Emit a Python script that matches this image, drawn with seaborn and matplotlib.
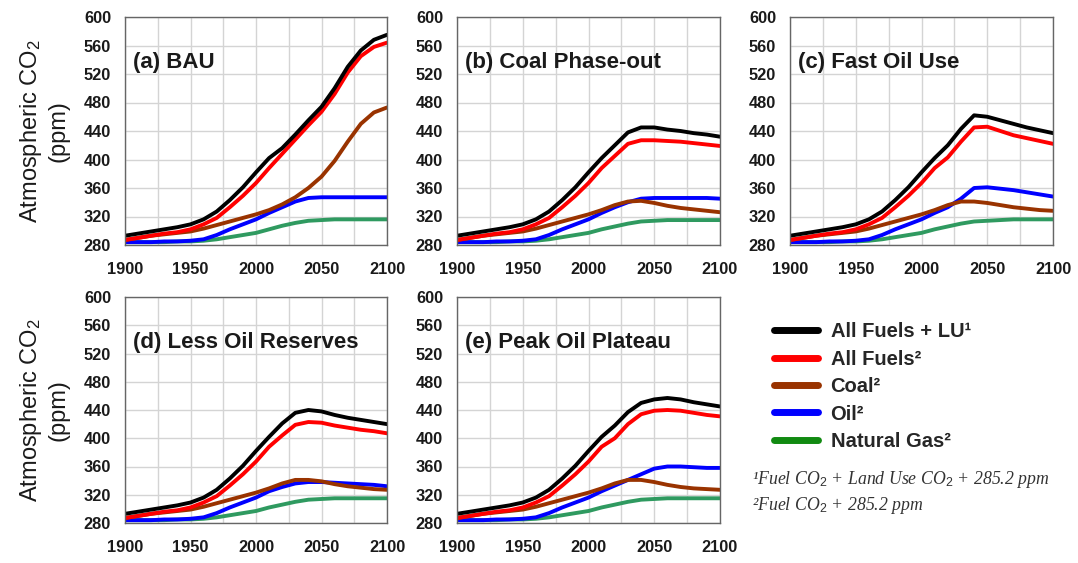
import matplotlib
matplotlib.use("Agg")
import matplotlib.pyplot as plt
from matplotlib.lines import Line2D
import numpy as np
import pandas as pd
import seaborn as sns

# ---------------------------------------------------------------- data
# Historical period shared by every scenario (ppm)
HIST_YEARS = list(range(1900, 2011, 10))
hist_all_lu = [293, 296, 299, 302, 305, 309, 316, 327, 343, 361, 382, 402]
hist_all = [287, 290, 293, 296, 298, 302, 309, 318, 333, 349, 367, 388]
hist_coal = [287, 290, 293, 295, 297, 299, 303, 308, 313, 318, 323, 329]
hist_oil = [284, 284, 284, 285, 285, 286, 288, 294, 302, 309, 316, 325]
hist_gas = [284, 284, 284, 284, 285, 285, 286, 288, 291, 294, 297, 302]

# Projections, 2020-2100 every 10 years (ppm)
FUT_YEARS = list(range(2020, 2101, 10))

bau_all_lu = [416, 435, 455, 474, 500, 530, 553, 568, 575]
bau_all = [408, 428, 448, 467, 492, 522, 545, 558, 564]
bau_coal = [337, 347, 360, 376, 398, 425, 450, 466, 473]
bau_oil = [333, 341, 346, 347, 347, 347, 347, 347, 347]
bau_gas = [307, 311, 314, 315, 316, 316, 316, 316, 316]

coal_all_lu = [420, 438, 445, 445, 442, 440, 437, 435, 432]
coal_all = [405, 422, 427, 427, 426, 425, 423, 421, 419]
coal_coal = [336, 341, 342, 339, 335, 332, 330, 328, 326]
coal_oil = [333, 340, 345, 346, 346, 346, 346, 346, 345]
coal_gas = [306, 310, 313, 314, 315, 315, 315, 315, 315]

fast_all_lu = [420, 443, 462, 460, 455, 450, 445, 441, 437]
fast_all = [403, 425, 445, 446, 440, 434, 430, 426, 422]
fast_coal = [336, 341, 341, 339, 336, 333, 331, 329, 328]
fast_oil = [333, 345, 360, 361, 359, 357, 354, 351, 348]
fast_gas = [306, 310, 313, 314, 315, 316, 316, 316, 316]

less_all_lu = [421, 436, 440, 438, 433, 429, 426, 423, 420]
less_all = [404, 419, 423, 422, 418, 415, 412, 410, 407]
less_coal = [336, 341, 341, 339, 335, 332, 330, 328, 327]
less_oil = [331, 336, 338, 338, 337, 336, 335, 334, 332]
less_gas = [306, 310, 313, 314, 315, 315, 315, 315, 315]

peak_all_lu = [418, 437, 450, 455, 457, 455, 451, 448, 445]
peak_all = [400, 420, 434, 439, 440, 439, 436, 433, 431]
peak_coal = [336, 341, 341, 338, 334, 331, 329, 328, 327]
peak_oil = [333, 341, 349, 357, 360, 360, 359, 358, 358]
peak_gas = [306, 310, 313, 314, 315, 315, 315, 315, 315]

SERIES = ["Natural Gas²", "Oil²", "Coal²", "All Fuels²", "All Fuels + LU¹"]
COLORS = ["#2f9a60", "#0000ff", "#993300", "#ff0000", "#000000"]
LEGEND_ORDER = ["All Fuels + LU¹", "All Fuels²", "Coal²", "Oil²", "Natural Gas²"]
LEGEND_COLORS = ["#000000", "#ff0000", "#993300", "#0000ff", "#118a11"]

PANELS = [
    ("(a) BAU", [bau_gas, bau_oil, bau_coal, bau_all, bau_all_lu]),
    ("(b) Coal Phase-out", [coal_gas, coal_oil, coal_coal, coal_all, coal_all_lu]),
    ("(c) Fast Oil Use", [fast_gas, fast_oil, fast_coal, fast_all, fast_all_lu]),
    ("(d) Less Oil Reserves", [less_gas, less_oil, less_coal, less_all, less_all_lu]),
    ("(e) Peak Oil Plateau", [peak_gas, peak_oil, peak_coal, peak_all, peak_all_lu]),
]
HISTORY = [hist_gas, hist_oil, hist_coal, hist_all, hist_all_lu]


def panel_frame(future):
    rows = []
    for name, hist, fut in zip(SERIES, HISTORY, future):
        for yr, v in zip(HIST_YEARS + FUT_YEARS, hist + fut):
            rows.append({"year": yr, "ppm": v, "series": name})
    return pd.DataFrame(rows)


# ---------------------------------------------------------------- style
sns.set_theme(style="whitegrid")
plt.rcParams["font.family"] = ["Liberation Sans", "DejaVu Sans"]
plt.rcParams["mathtext.fontset"] = "custom"
plt.rcParams["mathtext.rm"] = "Liberation Sans"
plt.rcParams["mathtext.it"] = "Liberation Serif:italic"
plt.rcParams["mathtext.bf"] = "Liberation Sans:bold"

W, H = 1078, 563
fig = plt.figure(figsize=(W / 100, H / 100), dpi=100)

# axes boxes in pixels: left, top, right, bottom
BOXES = [
    (125, 17, 387, 245),
    (457, 17, 720, 245),
    (790, 17, 1053, 245),
    (125, 297, 387, 523),
    (457, 297, 720, 523),
]

palette = dict(zip(SERIES, COLORS))
for i, ((title, future), (l, t, r, b)) in enumerate(zip(PANELS, BOXES)):
    ax = fig.add_axes([l / W, (H - b) / H, (r - l) / W, (b - t) / H])
    df = panel_frame(future)
    sns.lineplot(data=df, x="year", y="ppm", hue="series", hue_order=SERIES,
                 palette=palette, linewidth=2.8, legend=False, ax=ax)
    ax.set_xlim(1900, 2100)
    ax.set_ylim(280, 600)
    ax.set_xticks(np.arange(1900, 2101, 50))
    ax.set_xticks(np.arange(1925, 2100, 50), minor=True)
    ax.set_yticks(np.arange(280, 601, 40))
    ax.grid(True, which="both", color="#d4d4d4", linewidth=1.0)
    ax.set_axisbelow(True)
    ax.tick_params(axis="both", which="both", length=0)
    ax.tick_params(axis="x", pad=12)
    ax.tick_params(axis="y", pad=10)
    for lab in ax.get_xticklabels() + ax.get_yticklabels():
        lab.set_fontsize(11.8)
        lab.set_fontweight("bold")
        lab.set_color("#1a1a1a")
    for sp in ax.spines.values():
        sp.set_color("#666666")
        sp.set_linewidth(1.0)
    ax.set_xlabel("")
    if i in (0, 3):
        ax.set_ylabel("Atmospheric CO$_2$\n(ppm)", fontsize=17,
                      linespacing=1.2, color="#1a1a1a", labelpad=10)
    else:
        ax.set_ylabel("")
    ax.text(0.03, 0.80, title, transform=ax.transAxes, fontsize=16,
            fontweight="bold", color="#1a1a1a", va="center", ha="left")

legend_handles = [Line2D([], [], color=c, linewidth=5) for c in LEGEND_COLORS]
fig.legend(legend_handles, LEGEND_ORDER, loc="upper left",
           bbox_to_anchor=(756 / W, 1 - 304 / H), frameon=False,
           handlelength=2.2, handletextpad=0.6, labelspacing=0.42,
           prop={"family": "Liberation Sans", "weight": "bold", "size": 14.5})

fig.text(752 / W, 1 - 480 / H, "¹Fuel CO$_2$ + Land Use CO$_2$ + 285.2 ppm",
         fontsize=12.8, fontstyle="italic", family="Liberation Serif",
         color="#333333", va="center", ha="left")
fig.text(752 / W, 1 - 506 / H, "²Fuel CO$_2$ + 285.2 ppm",
         fontsize=12.8, fontstyle="italic", family="Liberation Serif",
         color="#333333", va="center", ha="left")

fig.savefig("out.png", dpi=100, facecolor="white")
